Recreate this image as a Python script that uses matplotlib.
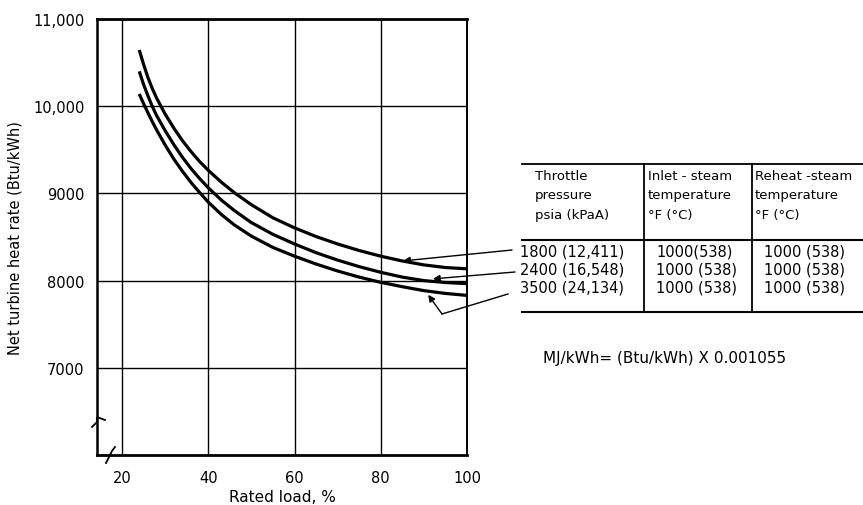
import numpy as np
import matplotlib
matplotlib.use("Agg")
import matplotlib.pyplot as plt
from matplotlib.lines import Line2D

matplotlib.rcParams['font.family'] = 'DejaVu Sans'

# ── Data ─────────────────────────────────────────────────────
load_pct = [24, 25, 26, 27, 28, 30, 32, 34, 36, 38, 40, 43, 46, 50,
            55, 60, 65, 70, 75, 80, 85, 90, 95, 100]
rate_1800 = [10645, 10480, 10330, 10205, 10095, 9910, 9750, 9605, 9480,
             9365, 9265, 9130, 9010, 8870, 8720, 8605, 8505, 8420, 8345,
             8280, 8225, 8180, 8150, 8135]
rate_2400 = [10400, 10250, 10120, 10000, 9895, 9720, 9560, 9415, 9285,
             9170, 9065, 8925, 8805, 8665, 8530, 8420, 8320, 8235, 8160,
             8095, 8040, 8000, 7978, 7965]
rate_3500 = [10140, 10030, 9925, 9825, 9730, 9555, 9395, 9255, 9125,
             9010, 8900, 8760, 8640, 8510, 8380, 8280, 8190, 8110, 8040,
             7980, 7930, 7885, 7853, 7830]

x_ticks = [20, 40, 60, 80, 100]
y_ticks = [7000, 8000, 9000, 10000, 11000]
y_tick_labels = ["7000", "8000", "9000", "10,000", "11,000"]

pressures = ["1800 (12,411)", "2400 (16,548)", "3500 (24,134)"]
inlet_temps = ["1000(538)", "1000 (538)", "1000 (538)"]
reheat_temps = ["1000 (538)", "1000 (538)", "1000 (538)"]
# arrow tips on each curve (load %, Btu/kWh)
arrow_tips = [(85.2, 8226), (92.1, 8020), (91.0, 7837)]

W, H = 863, 506


def px(x, y):
    return x / W, 1 - y / H


# ── Canvas ───────────────────────────────────────────────────
fig = plt.figure(figsize=(W / 100, H / 100), dpi=100, facecolor="white")
ax = fig.add_axes([97 / W, 1 - 456 / H, 370 / W, 436 / H])

ax.set_xlim(14.2, 100)
ax.set_ylim(6000, 11000)

for s in [rate_1800, rate_2400, rate_3500]:
    ax.plot(load_pct, s, color="black", linewidth=2.3,
            solid_capstyle="butt", zorder=3)

ax.set_xticks(x_ticks)
ax.set_yticks(y_ticks)
ax.set_yticklabels(y_tick_labels)
ax.grid(True, color="black", linewidth=1.0)
ax.tick_params(length=0, labelsize=10.5, pad=9)
ax.tick_params(axis="x", pad=11)

ax.spines["left"].set_linewidth(1.8)
ax.spines["bottom"].set_linewidth(2.0)
ax.spines["top"].set_linewidth(2.0)
ax.spines["right"].set_linewidth(1.4)

ax.set_xlabel("Rated load, %", fontsize=11, labelpad=3)
ax.set_ylabel("Net turbine heat rate (Btu/kWh)", fontsize=10.5, labelpad=8)

# ── Axis break marks ─────────────────────────────────────────
brk_y = [px(x, y) for x, y in [(92, 428), (97, 423), (97, 418), (105, 421)]]
fig.add_artist(Line2D([p[0] for p in brk_y], [p[1] for p in brk_y],
                      color="black", linewidth=1.3))
brk_x = [px(x, y) for x, y in [(106, 464), (110, 456), (112, 452), (115, 448)]]
fig.add_artist(Line2D([p[0] for p in brk_x], [p[1] for p in brk_x],
                      color="black", linewidth=1.3))

# ── Table ────────────────────────────────────────────────────
def hline(x0, x1, y, lw=1.3):
    a, b = px(x0, y), px(x1, y)
    fig.add_artist(Line2D([a[0], b[0]], [a[1], b[1]], color="black", linewidth=lw))


def vline(x, y0, y1, lw=1.3):
    a, b = px(x, y0), px(x, y1)
    fig.add_artist(Line2D([a[0], b[0]], [a[1], b[1]], color="black", linewidth=lw))


hline(522, 863, 165)
hline(522, 863, 241, lw=1.5)
hline(522, 863, 313, lw=1.5)
vline(644, 165, 313)
vline(752, 165, 313)

headers = [
    (535, ["Throttle", "pressure", "psia (kPaA)"]),
    (648, ["Inlet - steam", "temperature", "°F (°C)"]),
    (755, ["Reheat -steam", "temperature", "°F (°C)"]),
]
for hx, lines in headers:
    for i, t in enumerate(lines):
        fig.text(*px(hx, 176 + 20 * i), t, ha="left", va="center", fontsize=9.5)

row_y = [252, 270, 288]
for i, yy in enumerate(row_y):
    fig.text(*px(520, yy), pressures[i], ha="left", va="center", fontsize=10.5)
    fig.text(*px(656, yy), inlet_temps[i], ha="left", va="center", fontsize=10.5)
    fig.text(*px(764, yy), reheat_temps[i], ha="left", va="center", fontsize=10.5)

fig.text(*px(543, 358), "MJ/kWh= (Btu/kWh) X 0.001055",
         ha="left", va="center", fontsize=11)

# ── Arrows from table rows to curves ─────────────────────────
tail_pts = [px(512, 251), px(515, 273), px(442, 315)]
for (tx, ty), tail in zip(arrow_tips, tail_pts):
    ax.annotate("", xy=(tx, ty), xycoords="data",
                xytext=tail, textcoords="figure fraction",
                arrowprops=dict(arrowstyle="-|>", color="black", lw=1.0,
                                mutation_scale=10, shrinkA=0, shrinkB=0),
                annotation_clip=False)
a, b = px(508, 295), px(442, 315)
fig.add_artist(Line2D([a[0], b[0]], [a[1], b[1]], color="black", linewidth=1.0))

plt.savefig("out.png", dpi=100, facecolor="white")
